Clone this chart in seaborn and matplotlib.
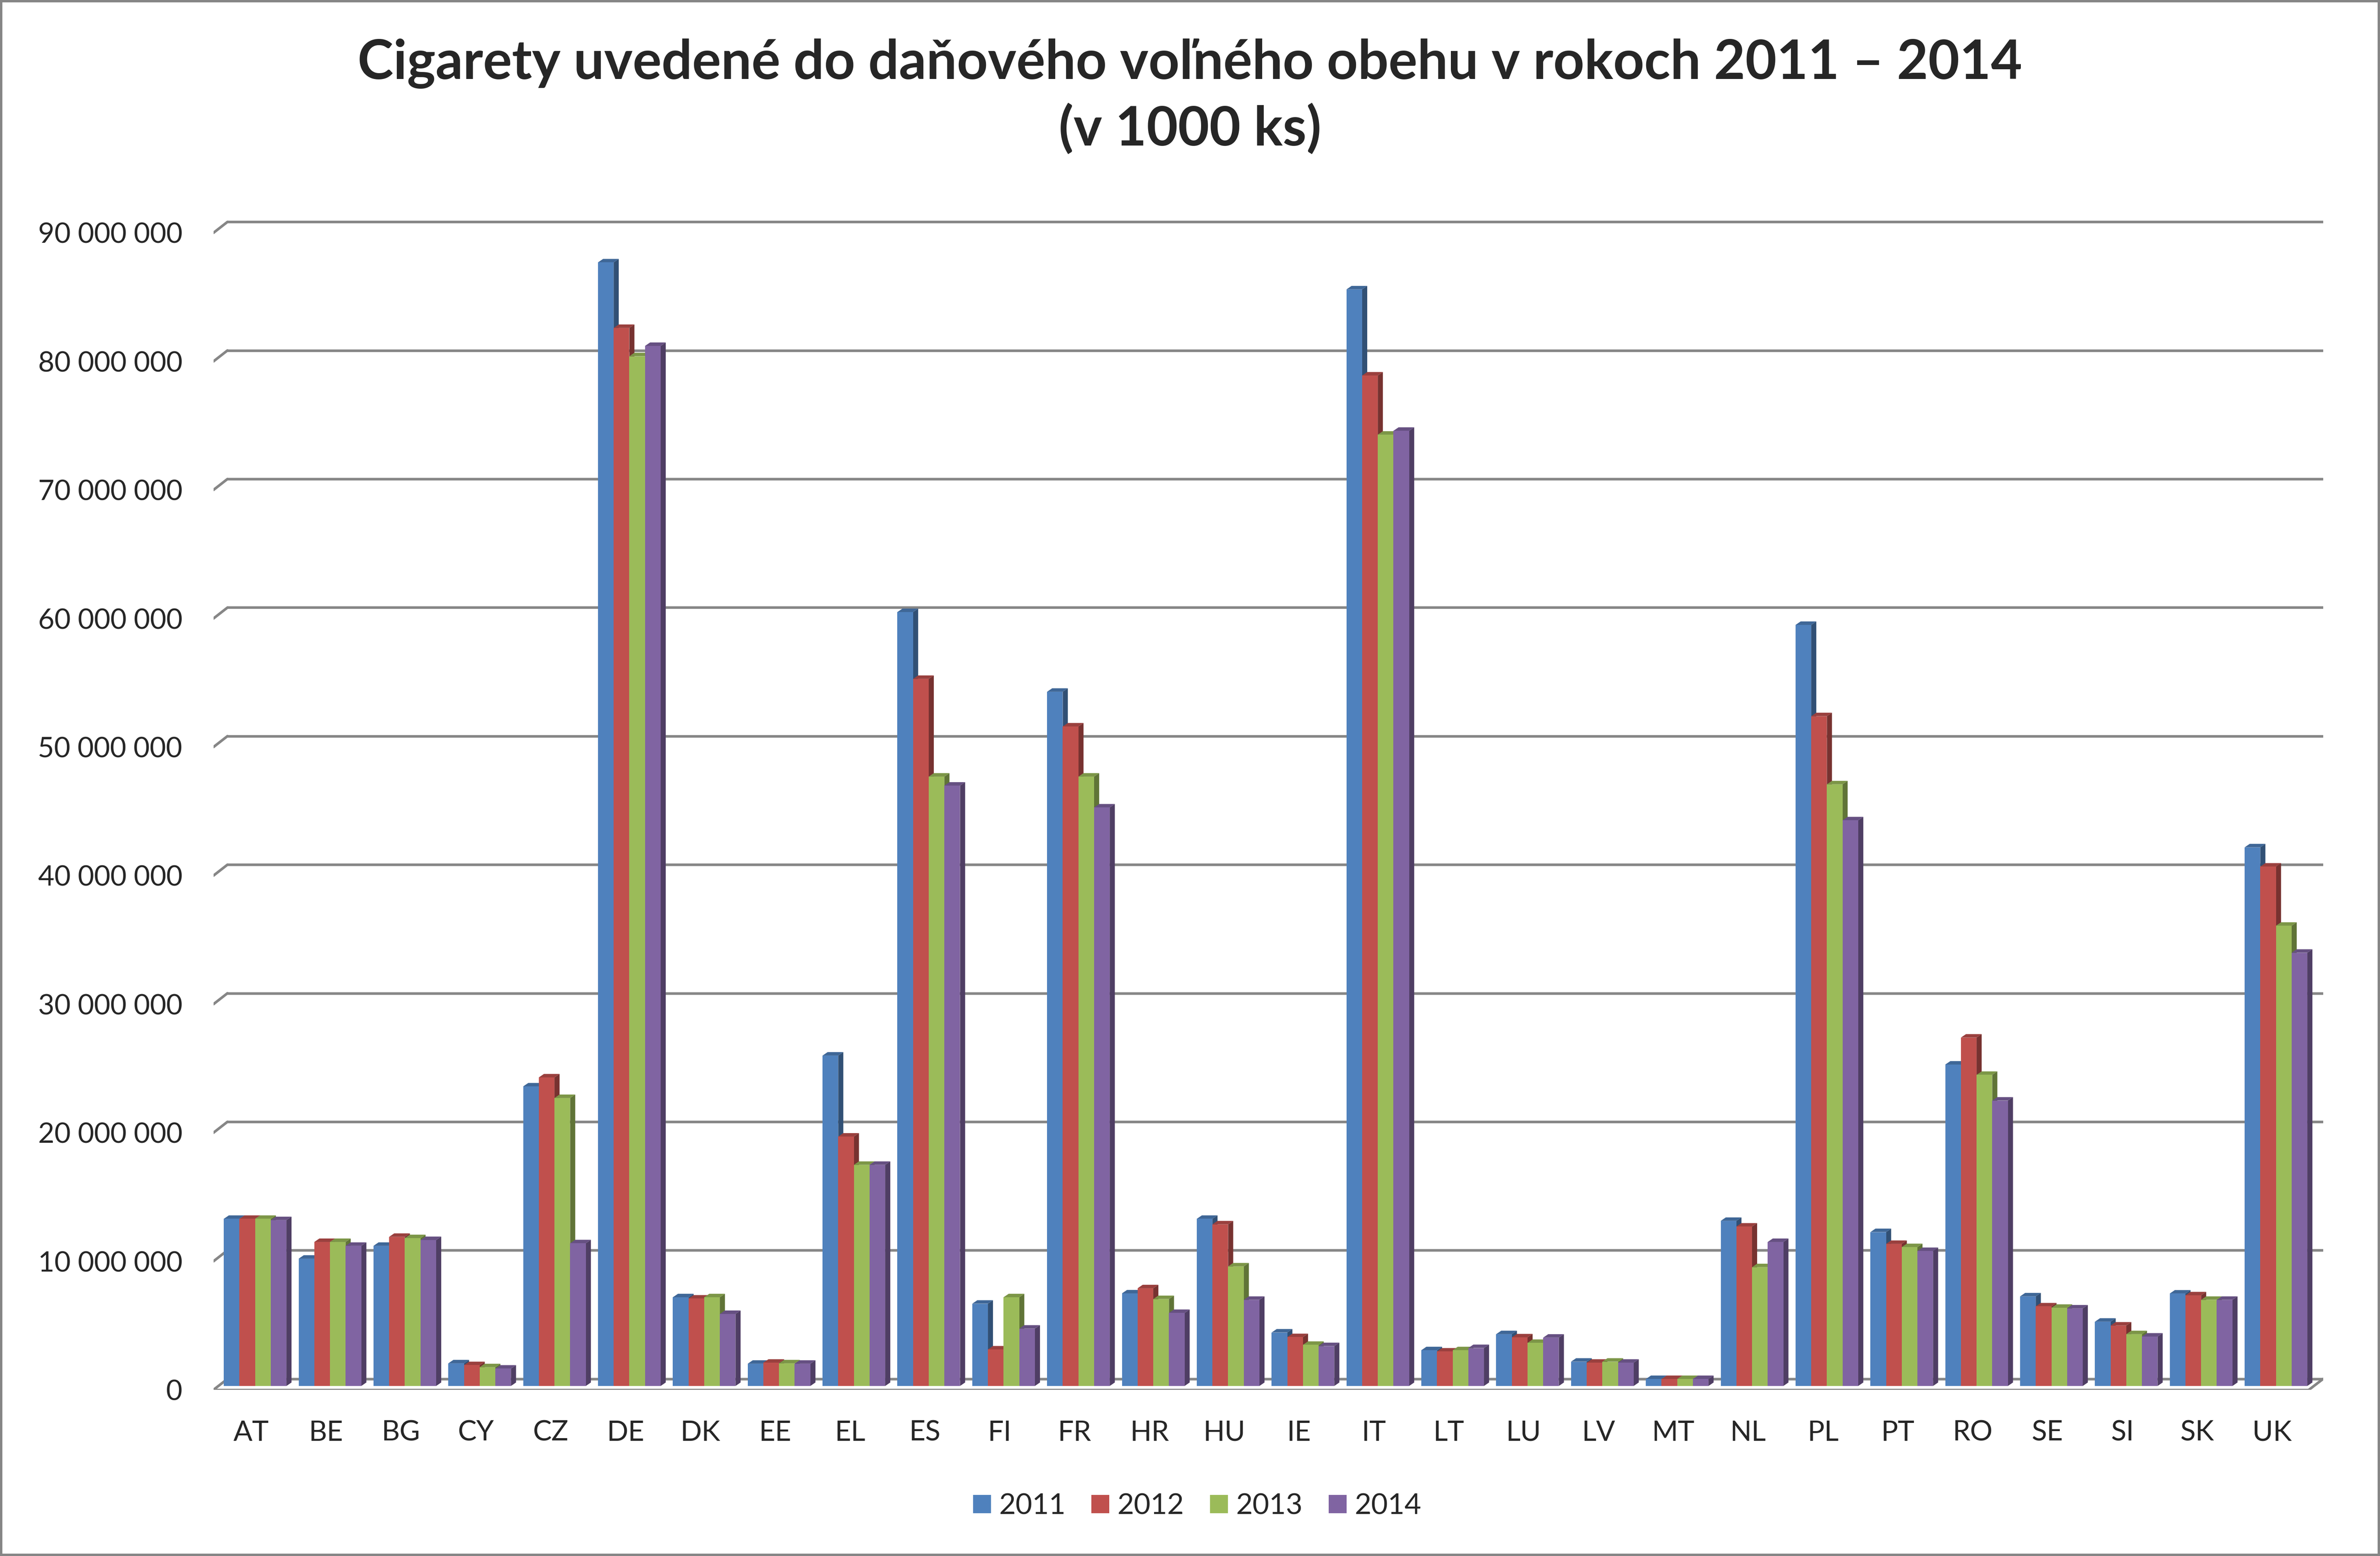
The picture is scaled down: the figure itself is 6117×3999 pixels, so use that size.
import numpy as np
import pandas as pd
import matplotlib
matplotlib.use('Agg')
import matplotlib.pyplot as plt
import seaborn as sns
from matplotlib.patches import Polygon, Rectangle
from matplotlib.colors import to_rgb
from matplotlib.transforms import ScaledTranslation

# hodnoty v tis. ks (odčítané z grafu, v miliónoch)
countries = ['AT', 'BE', 'BG', 'CY', 'CZ', 'DE', 'DK', 'EE', 'EL', 'ES', 'FI', 'FR', 'HR', 'HU',
             'IE', 'IT', 'LT', 'LU', 'LV', 'MT', 'NL', 'PL', 'PT', 'RO', 'SE', 'SI', 'SK', 'UK']
years = ['2011', '2012', '2013', '2014']
v2011 = [13.0, 9.9, 10.9, 1.76, 23.3, 87.4, 6.9, 1.73, 25.7, 60.2, 6.4, 54.0, 7.2, 13.0,
         4.16, 85.3, 2.78, 4.03, 1.89, 0.54, 12.84, 59.2, 11.97, 25.0, 6.97, 5.0, 7.19, 41.9]
v2012 = [13.0, 11.2, 11.6, 1.62, 24.0, 82.3, 6.8, 1.81, 19.4, 55.0, 2.84, 51.3, 7.6, 12.57,
         3.8, 78.6, 2.68, 3.78, 1.81, 0.54, 12.4, 52.1, 11.05, 27.1, 6.19, 4.7, 7.05, 40.4]
v2013 = [13.0, 11.2, 11.5, 1.46, 22.4, 80.1, 6.9, 1.76, 17.2, 47.4, 6.9, 47.4, 6.76, 9.3,
         3.2, 74.0, 2.78, 3.35, 1.89, 0.54, 9.24, 46.8, 10.8, 24.2, 6.08, 4.03, 6.7, 35.8]
v2014 = [12.9, 10.9, 11.35, 1.35, 11.1, 80.9, 5.6, 1.73, 17.2, 46.7, 4.46, 45.0, 5.68, 6.7,
         3.1, 74.3, 2.95, 3.76, 1.81, 0.54, 11.2, 44.0, 10.5, 22.2, 6.03, 3.84, 6.7, 33.7]
yticks = list(range(0, 90_000_001, 10_000_000))
colors = ['#4F81BD', '#C0504D', '#9BBB59', '#8064A2']

rows = []
for yr, vals in zip(years, [v2011, v2012, v2013, v2014]):
    for c, v in zip(countries, vals):
        rows.append({'krajina': c, 'rok': yr, 'hodnota': v * 1e6})
df = pd.DataFrame(rows)

sns.set_style('white')
plt.rcParams['font.family'] = ['Lato', 'DejaVu Sans']

M = 1e6
fig = plt.figure(figsize=(6117 / 400, 3999 / 400), dpi=400)
ax = fig.add_axes([0.0897, 0.1068, 0.9761 - 0.0897, 0.875 - 0.1068])

sns.barplot(data=df, x='krajina', y='hodnota', hue='rok', palette=colors, saturation=1,
            width=0.837, order=countries, hue_order=years, ax=ax, zorder=3)
bars = sorted(ax.patches, key=lambda p: p.get_x())

# 3D efekt - bočná a horná stena
dx, dy = 0.068, 0.27 * M
for k, p in enumerate(bars):
    x0, w, h = p.get_x(), p.get_width(), p.get_height()
    base = np.array(to_rgb(p.get_facecolor()))
    z = 3 + k * 0.001
    p.set_zorder(z)
    p.set_edgecolor('none')
    side = Polygon([(x0 + w, 0), (x0 + w + dx, dy), (x0 + w + dx, h + dy), (x0 + w, h)],
                   closed=True, facecolor=base * 0.62, edgecolor='none', zorder=z - 0.0005)
    top = Polygon([(x0, h), (x0 + dx, h + dy), (x0 + w + dx, h + dy), (x0 + w, h)],
                  closed=True, facecolor=base * 0.8, edgecolor='none', zorder=z - 0.0005)
    ax.add_patch(side)
    ax.add_patch(top)

# mriežka na zadnej stene + šikmé čiary
grid_c = '#868686'
back, front = 0.55 * M, -0.3 * M
xl, xb, xr, xrb = -0.556, -0.369, 27.44, 27.63
for v in yticks:
    ax.plot([xb, xrb], [v + back, v + back], color=grid_c, lw=1.2, zorder=1,
            solid_capstyle='round')
    ax.plot([xl, xb], [v + front, v + back], color=grid_c, lw=1.2, zorder=1)
# podlaha
ax.plot([xl, xr], [front, front], color=grid_c, lw=1.2, zorder=2)
ax.plot([xr, xrb], [front, back], color=grid_c, lw=1.2, zorder=2)

ax.set_xlim(xl, xrb)
ax.set_ylim(front, 92.68 * M)
ax.set_yticks([v + front for v in yticks])
ax.set_yticklabels([f'{v:,}'.replace(',', ' ') for v in yticks])
ax.set_xticks(range(len(countries)))
ax.set_xticklabels(countries)
ax.tick_params(axis='y', length=0, pad=14.4, labelsize=13)
ax.tick_params(axis='x', length=0, pad=14, labelsize=13)
shift = ScaledTranslation(-1.8 / 72, 0, fig.dpi_scale_trans)
for lab in ax.get_xticklabels():
    lab.set_transform(lab.get_transform() + shift)
ax.set_xlabel('')
ax.set_ylabel('')
for s in ax.spines.values():
    s.set_visible(False)
ax.patch.set_alpha(0)

handles, labels = ax.get_legend_handles_labels()
ax.get_legend().remove()
fig.legend(handles, labels, loc='center', bbox_to_anchor=(0.503, 0.032), ncol=4, frameon=False,
           fontsize=13.3, handlelength=0.62, handleheight=0.6, handletextpad=0.28,
           columnspacing=0.9)

fig.text(0.5, 1 - 203 / 3999, 'Cigarety uvedené do daňového voľného obehu v rokoch 2011 – 2014',
         ha='center', va='baseline', fontsize=25, fontweight='bold')
fig.text(0.5, 1 - 375 / 3999, '(v 1000 ks)', ha='center', va='baseline', fontsize=25,
         fontweight='bold')

fig.patches.append(Rectangle((0, 0), 1, 1, transform=fig.transFigure, fill=False,
                             edgecolor=grid_c, lw=2.2))

fig.savefig('out.png', dpi=400)
